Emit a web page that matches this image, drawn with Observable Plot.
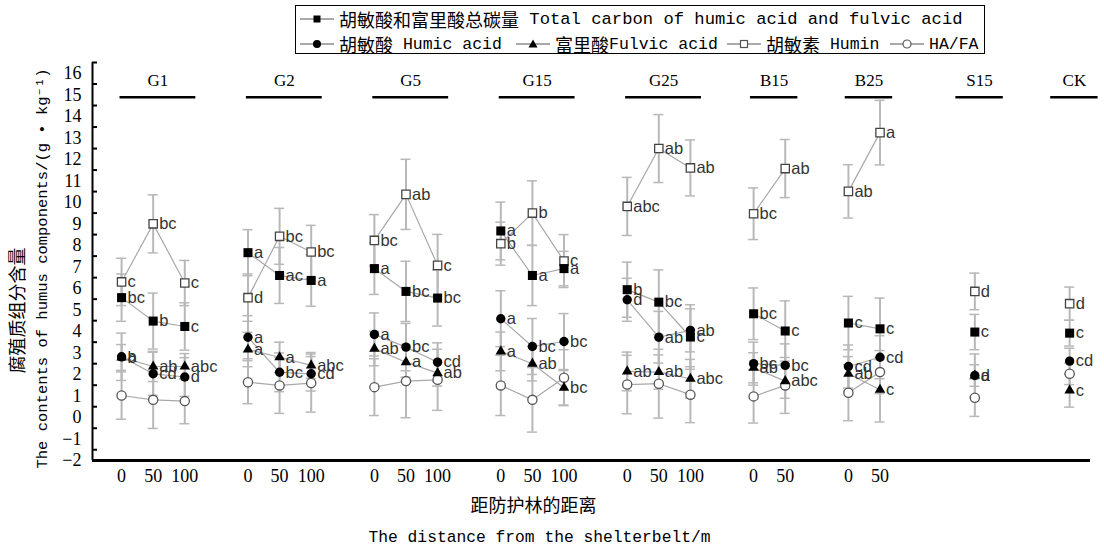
<!DOCTYPE html>
<html><head><meta charset="utf-8">
<script src="https://cdn.jsdelivr.net/npm/d3@7"></script>
<script src="https://cdn.jsdelivr.net/npm/@observablehq/plot@0.6"></script>
<style>
body{margin:0;background:#fff;width:1104px;height:552px;overflow:hidden;}
#legend{position:relative;height:60px;}
#box{position:absolute;left:295px;top:5px;width:690px;height:49px;border:1.5px solid #000;box-sizing:border-box;}
.item{position:absolute;display:flex;align-items:center;white-space:nowrap;font-family:"Liberation Mono","Noto Sans CJK SC",monospace;font-size:16.5px;color:#000;height:20px;}
.item svg{margin-right:5px;}
.cjk{font-family:"Noto Sans CJK SC";font-size:18px;}
.wide{font-size:17.2px;}
#chart svg{display:block;}
</style></head><body>
<div id="legend"><div id="box"></div></div>
<div id="chart"></div>
<script>
// ---------- data ----------
const groups = ["G1","G2","G5","G15","G25","B15","B25","S15","CK"];
const groupDistances = [[0,50,100],[0,50,100],[0,50,100],[0,50,100],[0,50,100],[0,50],[0,50],[""],[""]];

const totalCarbon = [5.57,4.48,4.23, 7.66,6.60,6.37, 6.92,5.86,5.55, 8.67,6.60,6.92, 5.94,5.36,3.74, 4.82,4.02, 4.39,4.12, 3.97, 3.92];
const totalSD     = [1.1,1.3,1.1, 1.07,1.3,1.2, 1.2,1.4,1.3, 1.34,1.4,0.8, 1.28,1.5,1.5, 1.2,1.4, 1.24,1.43, 0.82, 0.6];
const totalLetters= ["bc","b","c", "a","ac","a", "a","bc","bc", "a","a","a", "b","bc","c", "bc","c", "c","c", "c", "c"];

const humic       = [2.82,2.03,1.88, 3.73,2.10,2.03, 3.86,3.27,2.57, 4.59,3.30,3.53, 5.47,3.73,4.05, 2.50,2.42, 2.37,2.80, 1.95, 2.62];
const humicSD     = [1.1,1.0,0.9, 1.0,0.9,0.8, 1.0,1.1,0.9, 1.3,1.3,1.3, 1.0,1.2,1.0, 1.0,1.0, 1.0,1.0, 1.0, 0.6];
const humicLetters= ["a","cd","d", "a","bc","cd", "a","bc","cd", "a","bc","bc", "d","ab","ab", "bc","bc", "cd","cd", "a", "cd"];

const fulvic      = [2.79,2.37,2.37, 3.16,2.80,2.42, 3.20,2.57,2.06, 3.07,2.50,1.38, 2.14,2.11,1.80, 2.31,1.69, 2.03,1.29, 1.95, 1.26];
const fulvicSD    = [0.6,0.7,0.6, 0.8,0.7,0.6, 0.8,0.7,0.6, 0.9,0.8,0.8, 0.9,0.8,0.9, 0.7,0.8, 0.8,1.5, 0.5, 0.78];
const fulvicLetters=["b","ab","abc", "a","a","abc", "ab","a","ab", "a","ab","bc", "ab","ab","abc", "ab","abc", "ab","c", "d", "c"];

const humin       = [6.30,9.00,6.25, 5.57,8.42,7.69, 8.23,10.37,7.07, 8.08,9.50,7.27, 9.81,12.50,11.60, 9.47,11.57, 10.51,13.24, 5.86, 5.29];
const huminSD     = [1.1,1.35,1.05, 1.1,1.3,1.24, 1.2,1.63,1.44, 1.0,1.5,1.23, 1.35,1.58,1.3, 1.2,1.35, 1.24,1.5, 0.85, 0.77];
const huminLetters= ["c","bc","c", "d","bc","bc", "bc","ab","c", "b","b","c", "abc","ab","ab", "bc","ab", "ab","a", "d", "d"];

const haFa        = [1.02,0.82,0.76, 1.64,1.49,1.60, 1.41,1.69,1.75, 1.49,0.82,1.85, 1.53,1.57,1.06, 0.98,1.49, 1.15,2.11, 0.92, 2.03];
const haFaSD      = [1.1,1.33,1.05, 1.0,1.3,1.35, 1.32,1.7,1.42, 1.4,1.5,1.3, 1.36,1.6,1.3, 1.24,1.3, 1.3,1.0, 0.87, 0.5];

const yTickValues = d3.range(-2, 17, 1);

// ---------- layout constants ----------
const emptySlotsBefore = [0,1,1,1,1,1,1,2,2];
const xDomain = [-0.92, 30.66];
const slotPx = (1090 - 92) / (xDomain[1] - xDomain[0]);
const capHalf = 5 / slotPx;
const tickLen = 5 / slotPx;

// ---------- build table ----------
const points = [];
let slot = -1, k = 0;
groups.forEach((g, gi) => {
  slot += emptySlotsBefore[gi];
  groupDistances[gi].forEach(d => { slot += 1; points.push({group: g, dist: d, slot, idx: k++}); });
});

const series = [
  {key: "humin",  values: humin,       sd: huminSD,  letters: huminLetters,  symbol: "square",   fill: "white", stroke: "#444", r: 4.7, sw: 1.3},
  {key: "total",  values: totalCarbon, sd: totalSD,  letters: totalLetters,  symbol: "square",   fill: "#000",  stroke: "none", r: 5.1, sw: 0},
  {key: "ratio",  values: haFa,        sd: haFaSD,   letters: null,          symbol: "circle",   fill: "white", stroke: "#555", r: 4.6, sw: 1.3},
  {key: "humic",  values: humic,       sd: humicSD,  letters: humicLetters,  symbol: "circle",   fill: "#000",  stroke: "none", r: 4.7, sw: 0},
  {key: "fulvic", values: fulvic,      sd: fulvicSD, letters: fulvicLetters, symbol: "triangle", fill: "#000",  stroke: "none", r: 3.9, sw: 0}
];

const rows = [];
series.forEach(s => points.forEach(p => rows.push({
  series: s.key, group: p.group, slot: p.slot,
  value: s.values[p.idx], sd: s.sd[p.idx], letter: s.letters ? s.letters[p.idx] : null
})));

const caps = rows.flatMap(d => [{slot: d.slot, y: d.value - d.sd}, {slot: d.slot, y: d.value + d.sd}]);

const headers = groups.map(g => {
  const ps = points.filter(p => p.group === g);
  return {group: g, center: d3.mean(ps, p => p.slot) + 0.15, half: ps.length === 3 ? 1.2 : 0.75};
});

const tickPts = points.filter(p => p.dist !== "");
const distBySlot = new Map(tickPts.map(p => [p.slot, String(p.dist)]));

// ---------- legend ----------
const legendItems = [
  {key: "total",  cn: "胡敏酸和富里酸总碳量", en: " Total carbon of humic acid and fulvic acid", left: 300, top: 9, wide: true},
  {key: "humic",  cn: "胡敏酸", en: " Humic acid", left: 300, top: 34},
  {key: "fulvic", cn: "富里酸", en: "Fulvic acid", left: 516, top: 34},
  {key: "humin",  cn: "胡敏素", en: " Humin", left: 727, top: 34},
  {key: "ratio",  cn: "", en: "HA/FA", left: 890, top: 34}
];
function iconSVG(key) {
  let m = "";
  if (key === "total") m = '<rect x="13.5" y="3.5" width="7" height="7" fill="#000"/>';
  if (key === "humic") m = '<circle cx="17" cy="7" r="4" fill="#000"/>';
  if (key === "fulvic") m = '<path d="M17,2.5 L21.5,10.5 L12.5,10.5 Z" fill="#000"/>';
  if (key === "humin") m = '<rect x="13.5" y="3.5" width="7" height="7" fill="#fff" stroke="#555" stroke-width="1.2"/>';
  if (key === "ratio") m = '<circle cx="17" cy="7" r="4" fill="#fff" stroke="#555" stroke-width="1.2"/>';
  return `<svg width="34" height="14"><line x1="0" x2="34" y1="7" y2="7" stroke="#555" stroke-width="1.2"/>${m}</svg>`;
}
const legend = document.getElementById("legend");
legendItems.forEach(it => {
  const div = document.createElement("div");
  div.className = "item";
  div.style.left = it.left + "px";
  div.style.top = it.top + "px";
  div.innerHTML = iconSVG(it.key) + (it.cn ? `<span class="cjk">${it.cn}</span>` : "") +
    `<span class="${it.wide ? "wide" : ""}">${it.en.replace(/ /g, "&nbsp;")}</span>`;
  legend.appendChild(div);
});

// ---------- chart ----------
const serifFont = "Liberation Serif, Times New Roman, serif";
const marks = [
  Plot.ruleX(rows, {x: "slot", y1: d => d.value - d.sd, y2: d => d.value + d.sd, stroke: "#b8b8b8", strokeWidth: 2}),
  Plot.ruleY(caps, {y: "y", x1: d => d.slot - capHalf, x2: d => d.slot + capHalf, stroke: "#b8b8b8", strokeWidth: 1.5}),
  Plot.line(rows, {x: "slot", y: "value", z: d => d.series + "|" + d.group, stroke: "#a8a8a8", strokeWidth: 1.2}),
  ...series.map(s => Plot.dot(rows.filter(d => d.series === s.key), {
    x: "slot", y: "value", symbol: s.symbol, r: s.r, fill: s.fill, stroke: s.stroke, strokeWidth: s.sw
  })),
  Plot.text(rows.filter(d => d.letter), {
    x: "slot", y: "value", text: "letter", dx: 6, textAnchor: "start",
    fontFamily: "Liberation Sans, Arial, sans-serif", fontSize: 16.5, fill: "#333"
  }),
  Plot.text(headers, {x: "center", y: 15.66, text: "group", fontFamily: serifFont, fontSize: 17, fill: "#000"}),
  Plot.ruleY(headers, {y: 14.89, x1: d => d.center - d.half, x2: d => d.center + d.half, stroke: "#000", strokeWidth: 2.5}),
  Plot.axisY({ticks: yTickValues, tickSize: 0, tickPadding: 11, fontFamily: serifFont, fontSize: 18, label: null}),
  Plot.ruleY(d3.range(-1.5, 17, 1), {x1: xDomain[0], x2: xDomain[0] + tickLen, stroke: "#000", strokeWidth: 2}),
  Plot.ruleX([xDomain[0]], {stroke: "#000", strokeWidth: 2}),
  Plot.ruleY([-2], {stroke: "#000", strokeWidth: 3}),
  Plot.axisX({ticks: tickPts.map(p => p.slot), tickFormat: s => distBySlot.get(s), tickSize: 0, tickPadding: 9,
    fontFamily: serifFont, fontSize: 18, label: null}),
  Plot.text(["距防护林的距离"], {text: d => d, frameAnchor: "bottom", textAnchor: "middle", dy: 51, dx: -58,
    fontFamily: "Noto Sans CJK SC", fontSize: 18, fill: "#000"}),
  Plot.text(["The distance from the shelterbelt/m"], {text: d => d, frameAnchor: "bottom", textAnchor: "middle", dy: 81, dx: -52,
    fontFamily: "Liberation Mono, monospace", fontSize: 16.3, fill: "#000"}),
  Plot.text(["腐殖质组分含量"], {text: d => d, frameAnchor: "left", textAnchor: "middle", rotate: -90, dx: -74, dy: 49,
    fontFamily: "Noto Sans CJK SC", fontSize: 18, fill: "#000"}),
  Plot.text(["The contents of humus components/(g • kg⁻¹)"], {text: d => d, frameAnchor: "left", textAnchor: "middle", rotate: -90, dx: -50, dy: 7,
    fontFamily: "Liberation Mono, monospace", fontSize: 15.5, fill: "#000"})
];

const chart = Plot.plot({
  width: 1104, height: 492,
  marginLeft: 92, marginRight: 14, marginTop: 2, marginBottom: 92,
  x: {type: "linear", domain: xDomain, axis: null},
  y: {type: "linear", domain: [-2, 16.5], axis: null},
  style: {background: "white", overflow: "visible", fontFamily: serifFont},
  marks
});
document.getElementById("chart").appendChild(chart);
</script></body></html>
